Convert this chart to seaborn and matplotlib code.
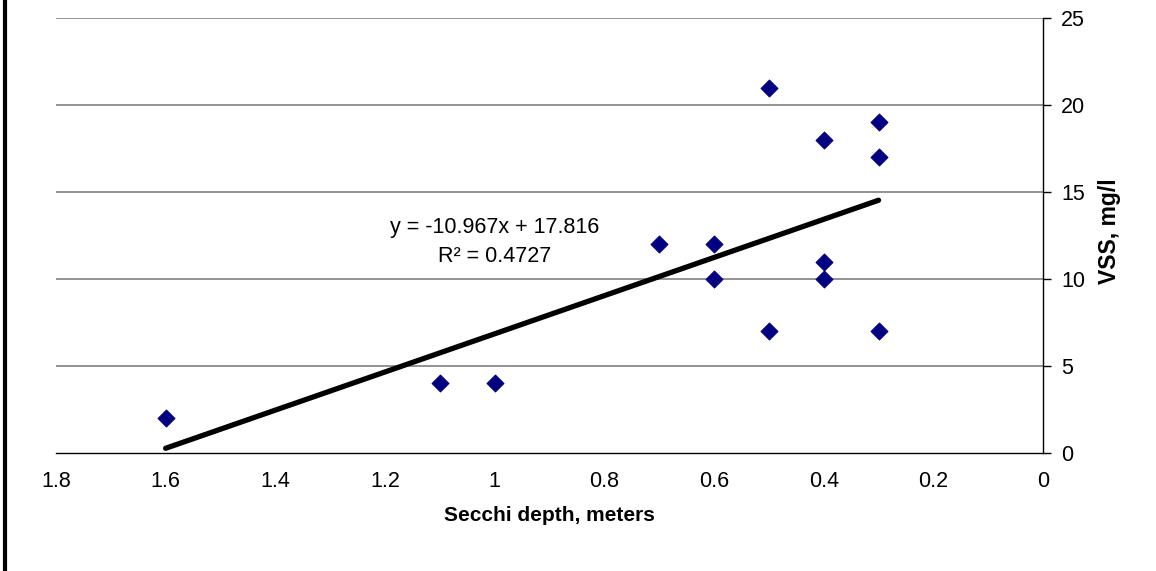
import numpy as np
import pandas as pd
import matplotlib.pyplot as plt
import seaborn as sns

secchi = [1.6, 1.1, 1.0, 0.7, 0.6, 0.6, 0.5, 0.5, 0.4, 0.4, 0.4, 0.3, 0.3, 0.3]
vss = [2, 4, 4, 12, 12, 10, 21, 7, 18, 11, 10, 19, 17, 7]
slope = -10.967
intercept = 17.816
r2 = 0.4727

df = pd.DataFrame({"secchi": secchi, "vss": vss})
trend_x = np.array([min(secchi), max(secchi)])
trend = pd.DataFrame({"secchi": trend_x, "vss": slope * trend_x + intercept})

sns.set_style("white")
plt.rcParams["font.family"] = ["Liberation Sans", "DejaVu Sans"]
plt.rcParams["text.color"] = "black"
plt.rcParams["axes.labelcolor"] = "black"
plt.rcParams["xtick.color"] = "black"
plt.rcParams["ytick.color"] = "black"

fig = plt.figure(figsize=(11.56, 5.71), dpi=100)
ax = fig.add_axes([0.0484, 0.2067, 0.8539, 0.7618])

for v in [5, 10, 15, 20, 25]:
    ax.axhline(v, color="#808080", lw=1.2, zorder=0)

sns.lineplot(data=trend, x="secchi", y="vss", ax=ax, color="black", lw=3.8,
             solid_capstyle="round", zorder=2)
sns.scatterplot(data=df, x="secchi", y="vss", ax=ax, marker="D", s=75,
                color="#000080", edgecolor="#000080", zorder=3)

ax.set_xlim(1.8, 0)
ax.set_ylim(0, 25)
ax.set_xticks([1.8, 1.6, 1.4, 1.2, 1.0, 0.8, 0.6, 0.4, 0.2, 0])
ax.set_xticklabels(["1.8", "1.6", "1.4", "1.2", "1", "0.8", "0.6", "0.4", "0.2", "0"])
ax.set_yticks([0, 5, 10, 15, 20, 25])

ax.yaxis.tick_right()
ax.yaxis.set_label_position("right")
ax.tick_params(axis="both", direction="out", length=6, width=1, color="black",
               labelsize=15.5, labelcolor="black")
ax.tick_params(axis="x", pad=7)
ax.tick_params(axis="y", pad=7)

for side in ["top", "left"]:
    ax.spines[side].set_visible(False)
for side in ["bottom", "right"]:
    ax.spines[side].set_color("black")
    ax.spines[side].set_linewidth(1)

ax.set_xlabel("Secchi depth, meters", fontsize=15, fontweight="bold", labelpad=10)
ax.set_ylabel("VSS, mg/l", fontsize=16.5, fontweight="bold", labelpad=9)
ax.yaxis.label.set_y(0.51)

ax.text(1.0, 12.1, f"y = {slope}x + {intercept}\nR\u00b2 = {r2}", ha="center",
        va="center", fontsize=15.5, linespacing=1.5)

fig.add_artist(plt.Line2D([0.0045, 0.0045], [0, 1], color="black", lw=3,
                          transform=fig.transFigure))

fig.savefig("out.png", dpi=100)
